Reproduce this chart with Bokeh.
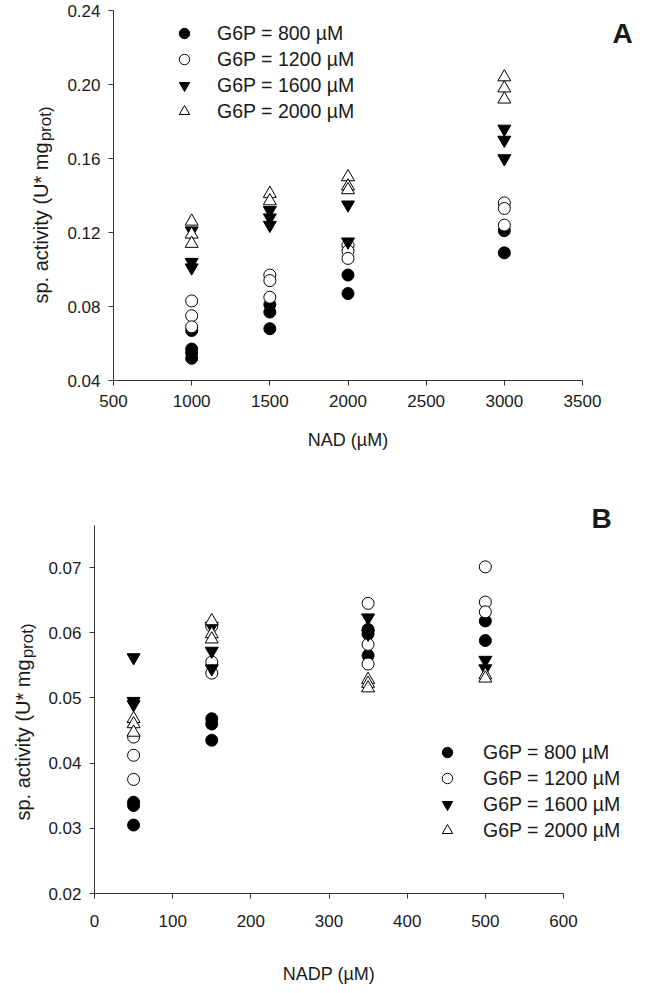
import math
from bokeh.plotting import figure
from bokeh.layouts import column
from bokeh.models import Legend, LegendItem, Label, FixedTicker, NumeralTickFormatter, Range1d
from bokeh.embed import file_html
from bokeh.resources import INLINE

# ---------------- data ----------------
series_labels = ["G6P = 800 \u00b5M", "G6P = 1200 \u00b5M", "G6P = 1600 \u00b5M", "G6P = 2000 \u00b5M"]

# Panel A : NAD (uM) vs specific activity
a800_x = [1000, 1000, 1000, 1000, 1500, 1500, 1500, 2000, 2000, 3000, 3000]
a800_y = [0.067, 0.057, 0.055, 0.052, 0.081, 0.077, 0.068, 0.097, 0.087, 0.121, 0.109]
a1200_x = [1000, 1000, 1000, 1500, 1500, 1500, 2000, 2000, 2000, 3000, 3000, 3000]
a1200_y = [0.083, 0.075, 0.069, 0.097, 0.094, 0.085, 0.113, 0.110, 0.106, 0.136, 0.133, 0.124]
a1600_x = [1000, 1000, 1000, 1500, 1500, 1500, 2000, 2000, 3000, 3000, 3000]
a1600_y = [0.121, 0.104, 0.101, 0.132, 0.128, 0.124, 0.135, 0.115, 0.176, 0.170, 0.160]
a2000_x = [1000, 1000, 1000, 1500, 1500, 2000, 2000, 2000, 3000, 3000, 3000]
a2000_y = [0.126, 0.119, 0.114, 0.141, 0.137, 0.150, 0.145, 0.143, 0.204, 0.198, 0.192]

# Panel B : NADP (uM) vs specific activity
b800_x = [50, 50, 50, 150, 150, 150, 350, 350, 350, 500, 500]
b800_y = [0.0340, 0.0335, 0.0305, 0.0468, 0.0460, 0.0435, 0.0605, 0.0598, 0.0565, 0.0618, 0.0588]
b1200_x = [50, 50, 50, 150, 150, 150, 350, 350, 350, 500, 500, 500]
b1200_y = [0.0440, 0.0412, 0.0375, 0.0610, 0.0555, 0.0538, 0.0645, 0.0582, 0.0552, 0.0701, 0.0647, 0.0632]
b1600_x = [50, 50, 50, 150, 150, 150, 350, 350, 500, 500]
b1600_y = [0.0562, 0.0495, 0.0490, 0.0610, 0.0572, 0.0545, 0.0623, 0.0598, 0.0558, 0.0545]
b2000_x = [50, 50, 50, 150, 150, 150, 350, 350, 350, 500, 500]
b2000_y = [0.0468, 0.0460, 0.0447, 0.0618, 0.0598, 0.0590, 0.0528, 0.0522, 0.0515, 0.0535, 0.0530]

a_xticks = [500, 1000, 1500, 2000, 2500, 3000, 3500]
a_yticks = [0.04, 0.08, 0.12, 0.16, 0.20, 0.24]
b_xticks = [0, 100, 200, 300, 400, 500, 600]
b_yticks = [0.02, 0.03, 0.04, 0.05, 0.06, 0.07]

# ---------------- styling ----------------
FONT = "Liberation Sans"
TXT = "#1a1a1a"
AXC = "#333333"
AW = {'s': .5, 'p': .556, '.': .278, ' ': .278, 'a': .556, 'c': .5, 't': .278, 'i': .222,
      'v': .5, 'y': .5, '(': .333, 'U': .722, '*': .389, 'm': .833, 'g': .556}
FIG_W = 670
TITLE_PX = 20
SUB_PX = 17


def text_w(s, size):
    return sum(AW.get(ch, .556) for ch in s) * size


def span(d0, d1, p0, p1, lo, hi):
    """Range so that data d0->pixel p0, d1->pixel p1 over a canvas lo..hi (pixels)."""
    k = (d1 - d0) / (p1 - p0)
    return d0 + (lo - p0) * k, d0 + (hi - p0) * k


def make_fig(fig_h, xr, yr, xb, yb, xt, yt, xlabel, xt_standoff, xl_standoff):
    p = figure(width=FIG_W, height=fig_h, x_range=Range1d(*xr), y_range=Range1d(*yr),
               output_backend="svg", toolbar_location=None,
               min_border_left=0, min_border_right=0, min_border_top=0, min_border_bottom=0)
    p.outline_line_color = None
    p.grid.visible = False
    p.background_fill_color = "white"
    p.border_fill_color = "white"
    for ax in (p.xaxis[0], p.yaxis[0]):
        ax.axis_line_color = AXC
        ax.major_tick_line_color = AXC
        ax.minor_tick_line_color = None
        ax.major_tick_out = 5
        ax.major_tick_in = 0
        ax.major_label_text_font = FONT
        ax.major_label_text_font_size = "17px"
        ax.major_label_text_color = TXT
        ax.axis_label_text_font = FONT
        ax.axis_label_text_font_size = "18px"
        ax.axis_label_text_font_style = "normal"
        ax.axis_label_text_color = TXT
    p.xaxis.ticker = FixedTicker(ticks=xt)
    p.yaxis.ticker = FixedTicker(ticks=yt)
    p.yaxis.formatter = NumeralTickFormatter(format="0.00")
    p.xaxis.fixed_location = yb[0]
    p.yaxis.fixed_location = xb[0]
    p.xaxis.bounds = xb
    p.yaxis.bounds = yb
    p.xaxis.axis_label = xlabel
    p.xaxis.major_label_standoff = xt_standoff
    p.xaxis.axis_label_standoff = xl_standoff
    p.yaxis.major_label_standoff = 8
    return p


def add_series(p, xs_ys):
    styles = [("circle", "black", 12), ("circle", "white", 12),
              ("inverted_triangle", "black", 13), ("triangle", "white", 13)]
    rs = []
    for (xs, ys), (mk, fc, sz) in zip(xs_ys, styles):
        r = p.scatter(xs, ys, marker=mk, size=sz, fill_color=fc, line_color="black", line_width=1)
        rs.append(r)
    return rs


def add_legend(p, rs, loc, standoff):
    items = [LegendItem(label=lab, renderers=[r]) for lab, r in zip(series_labels, rs)]
    lg = Legend(items=items, location=loc, padding=0, margin=0, border_line_color=None,
                background_fill_alpha=0, glyph_width=26, glyph_height=26, label_height=26,
                spacing=0, label_standoff=standoff, label_text_font=FONT,
                label_text_font_size="19.5px", label_text_color=TXT)
    p.add_layout(lg)


def add_ytitle(p, x, y):
    main = "sp. activity (U* mg"
    p.add_layout(Label(x=x, y=y, x_units="screen", y_units="screen", text=main,
                       angle=math.pi / 2, text_font=FONT, text_font_size=f"{TITLE_PX}px",
                       text_color=TXT, text_baseline="alphabetic", text_align="left"))
    p.add_layout(Label(x=x + 5, y=y + text_w(main, TITLE_PX) + 1, x_units="screen", y_units="screen",
                       text="prot)", angle=math.pi / 2, text_font=FONT, text_font_size=f"{SUB_PX}px",
                       text_color=TXT, text_baseline="alphabetic", text_align="left"))


def add_letter(p, x, y, t):
    p.add_layout(Label(x=x, y=y, x_units="screen", y_units="screen", text=t,
                       text_font=FONT, text_font_size="28px", text_font_style="bold",
                       text_color=TXT, text_align="center", text_baseline="middle"))


# ---------------- panel A ----------------
HA = 483
xa = span(500, 3500, 113, 582, 0, FIG_W)
ya = span(0.24, 0.04, 10, 380, HA, 0)
pa = make_fig(HA, xa, ya, (500, 3500), (0.04, 0.24), a_xticks, a_yticks, "NAD (\u00b5M)", 9, 20)
ra = add_series(pa, [(a800_x, a800_y), (a1200_x, a1200_y), (a1600_x, a1600_y), (a2000_x, a2000_y)])
add_legend(pa, ra, (171, 359), 20)
add_ytitle(pa, 40, 180)
add_letter(pa, 622, 450, "A")

# ---------------- panel B ----------------
HB = 510
xb = span(0, 600, 94, 563, 0, FIG_W)
yb = span(0.07, 0.02, 84, 410, HB, 0)
pb = make_fig(HB, xb, yb, (0, 600), (0.02, 0.0765), b_xticks, b_yticks, "NADP (\u00b5M)", 16, 34)
rb = add_series(pb, [(b800_x, b800_y), (b1200_x, b1200_y), (b1600_x, b1600_y), (b2000_x, b2000_y)])
add_legend(pb, rb, (434, 150), 23)
add_ytitle(pb, 22, 173)
add_letter(pb, 601, 475, "B")

layout = column(pa, pb, spacing=0)
open("out.html", "w").write(file_html(layout, INLINE))
